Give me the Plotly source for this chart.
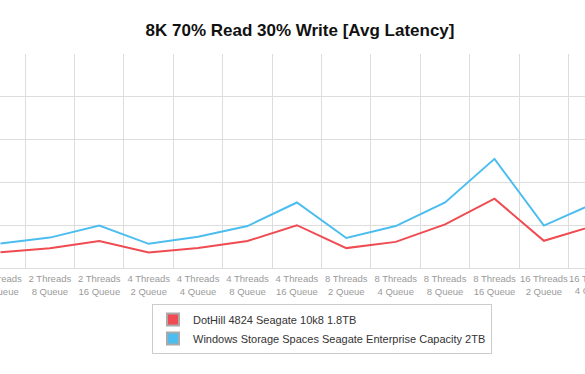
import plotly.graph_objects as go

categories = [
    "2 Threads<br>4 Queue", "2 Threads<br>8 Queue", "2 Threads<br>16 Queue",
    "4 Threads<br>2 Queue", "4 Threads<br>4 Queue", "4 Threads<br>8 Queue", "4 Threads<br>16 Queue",
    "8 Threads<br>2 Queue", "8 Threads<br>4 Queue", "8 Threads<br>8 Queue", "8 Threads<br>16 Queue",
    "16 Threads<br>2 Queue", "16 Threads<br>4 Queue",
]
dothill = [3.7, 4.6, 6.3, 3.65, 4.65, 6.3, 10.0, 4.65, 6.1, 10.2, 16.2, 6.35, 9.8]
storage_spaces = [5.7, 7.1, 9.9, 5.65, 7.3, 9.8, 15.3, 7.0, 9.8, 15.3, 25.5, 9.9, 15.0]

series_names = ["DotHill 4824 Seagate 10k8 1.8TB",
                "Windows Storage Spaces Seagate Enterprise Capacity 2TB"]
colors = ["#ef4b51", "#4cbdef"]

fig = go.Figure()
for name, vals, col in zip(series_names, [dothill, storage_spaces], colors):
    fig.add_trace(go.Scatter(x=categories, y=vals, mode="lines", name=name,
                             line=dict(color=col, width=2), showlegend=False))
    fig.add_trace(go.Scatter(x=[None], y=[None], mode="markers", name=name,
                             marker=dict(symbol="square", size=14, color=col,
                                         line=dict(color="#aaaaaa", width=1)),
                             showlegend=True))

x0 = -0.01
x1 = x0 + 585 / 49.4

fig.update_layout(
    width=585, height=374,
    margin=dict(l=0, r=0, t=54, b=106, autoexpand=False),
    paper_bgcolor="white", plot_bgcolor="white",
    font=dict(family="Liberation Sans, Arial, sans-serif"),
    title=dict(text="<b>8K 70% Read 30% Write [Avg Latency]</b>",
               x=300 / 585, xanchor="center", y=1 - 30 / 374, yanchor="middle",
               font=dict(size=17, color="#111111")),
    xaxis=dict(type="category", categoryorder="array", categoryarray=categories,
               range=[x0, x1], tickson="boundaries", showgrid=True, automargin=False,
               gridcolor="#dddddd", gridwidth=1, showline=True, linecolor="#dddddd",
               ticks="", tickfont=dict(size=9.5, color="#9a9a9a"), tickangle=0,
               ticklabelstandoff=2),
    yaxis=dict(range=[0, 50], dtick=10, showgrid=True, gridcolor="#dddddd", automargin=False,
               gridwidth=1, showticklabels=False, zeroline=False, showline=False),
    legend=dict(x=152 / 585, xanchor="left", y=-(304 - 268) / 214, yanchor="top",
                bordercolor="#cccccc", borderwidth=1, font=dict(size=11, color="#333333"),
                tracegroupgap=0, itemsizing="constant"),
)

fig.add_annotation(x=(12 - x0) / (x1 - x0), xref="paper", y=-(271 - 268) / 214, yref="paper",
                   yanchor="top", xanchor="center", showarrow=False,
                   text=categories[12], font=dict(size=9.5, color="#9a9a9a"))

fig.write_html("out.html", config={"displayModeBar": False},
               post_script="document.body.style.margin='0';document.body.style.overflow='hidden';")
